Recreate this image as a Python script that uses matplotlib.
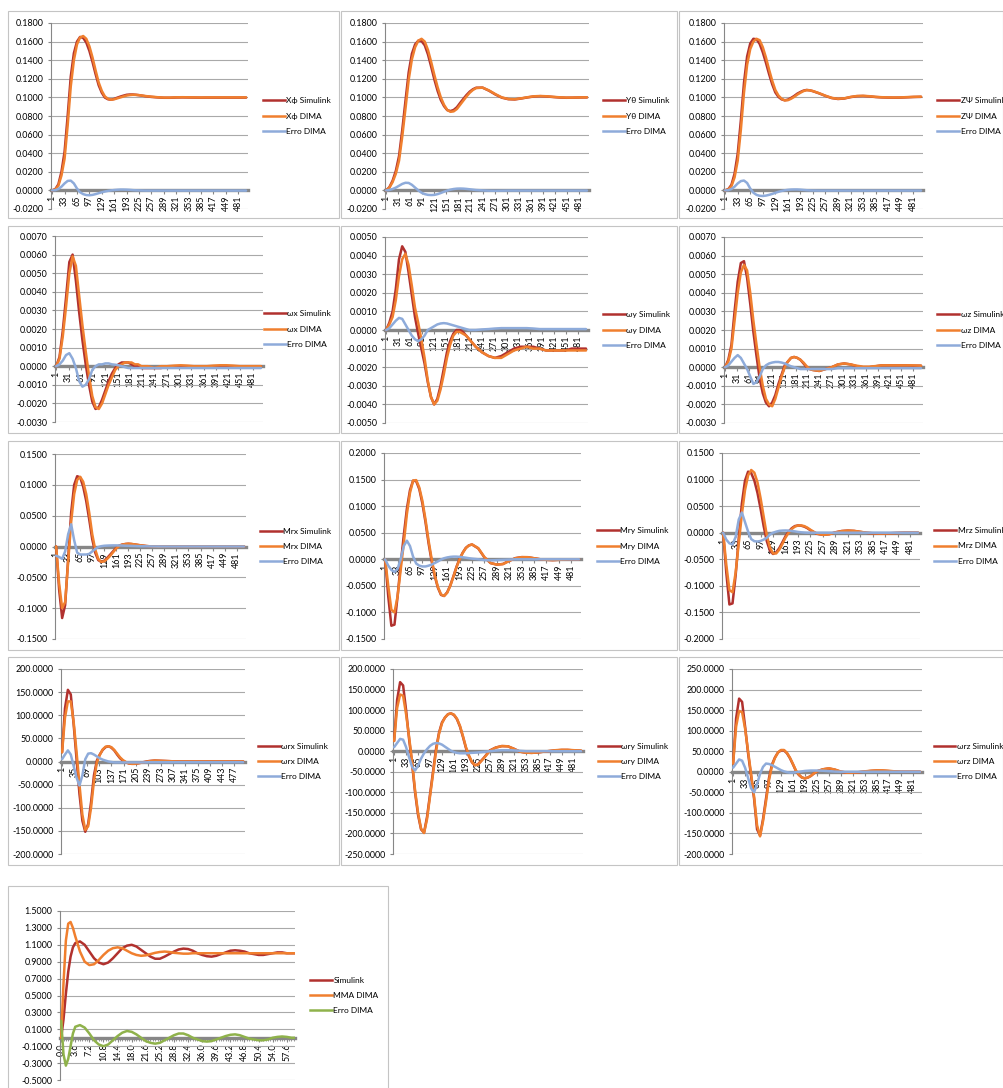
import matplotlib
matplotlib.use("Agg")
import numpy as np
import matplotlib.pyplot as plt
from matplotlib.patches import Rectangle
from matplotlib.lines import Line2D
from matplotlib.ticker import MultipleLocator

plt.rcParams['font.family'] = ['Lato', 'DejaVu Sans']
plt.rcParams['axes.unicode_minus'] = False

# sample index (step number) shared by the twelve state/moment charts
IDX = [1, 9, 17, 25, 33, 41, 49, 57, 65, 73, 81, 89, 97, 105, 113, 121, 129, 137, 145,
       153, 161, 169, 177, 185, 193, 201, 209, 217, 225,
       241, 257, 273, 289, 305, 321, 337, 353, 369, 385, 401, 417, 433, 449, 465, 481, 501]

TICKS_30 = [1, 31, 61, 91, 121, 151, 181, 211, 241, 271, 301, 331, 361, 391, 421, 451, 481]
TICKS_32 = [1, 33, 65, 97, 129, 161, 193, 225, 257, 289, 321, 353, 385, 417, 449, 481]
TICKS_34 = [1, 35, 69, 103, 137, 171, 205, 239, 273, 307, 341, 375, 409, 443, 477]

# X phi
xphi_sim = [0.0000, 0.0013, 0.0065, 0.0200, 0.0415, 0.0802, 0.1225, 0.1475, 0.1600, 0.1650, 0.1640, 0.1590, 0.1500, 0.1382, 0.1250, 0.1130, 0.1050, 0.0998, 0.0980, 0.0975, 0.0984, 0.0997, 0.1009, 0.1019, 0.1028, 0.1031, 0.1031, 0.1028, 0.1024,
            0.1013, 0.1005, 0.1000, 0.0996, 0.0996, 0.0999, 0.1000, 0.0999, 0.0998, 0.0997, 0.0998, 0.0998, 0.0998, 0.0998, 0.0998, 0.0998, 0.0998]
xphi_dima = [0.0000, 0.0010, 0.0050, 0.0160, 0.0340, 0.0700, 0.1120, 0.1400, 0.1570, 0.1645, 0.1660, 0.1630, 0.1550, 0.1430, 0.1290, 0.1160, 0.1070, 0.1010, 0.0985, 0.0975, 0.0980, 0.0990, 0.1000, 0.1010, 0.1020, 0.1025, 0.1028, 0.1027, 0.1024,
             0.1015, 0.1008, 0.1002, 0.0998, 0.0998, 0.1001, 0.1002, 0.1001, 0.1000, 0.0999, 0.1000, 0.1000, 0.1000, 0.1000, 0.1000, 0.1000, 0.1000]
xphi_err = [0.0000, 0.0003, 0.0015, 0.0040, 0.0075, 0.0102, 0.0105, 0.0075, 0.0020, -0.0020, -0.0040, -0.0050, -0.0052, -0.0048, -0.0040, -0.0030, -0.0020, -0.0012, -0.0005, 0.0000, 0.0004, 0.0007, 0.0009, 0.0009, 0.0008, 0.0006, 0.0003, 0.0001, 0.0000,
            -0.0002, -0.0002, -0.0002, -0.0002, -0.0002, -0.0002, -0.0002, -0.0002, -0.0002, -0.0002, -0.0002, -0.0002, -0.0002, -0.0002, -0.0002, -0.0002, -0.0002]

# Y theta
ytheta_sim = [0.0000, 0.0035, 0.0105, 0.0210, 0.0370, 0.0650, 0.0962, 0.1270, 0.1470, 0.1570, 0.1610, 0.1605, 0.1560, 0.1462, 0.1330, 0.1192, 0.1070, 0.0972, 0.0906, 0.0863, 0.0853, 0.0865, 0.0894, 0.0940, 0.0984, 0.1026, 0.1062, 0.1088, 0.1104,
              0.1105, 0.1072, 0.1031, 0.0997, 0.0981, 0.0978, 0.0988, 0.1000, 0.1010, 0.1013, 0.1010, 0.1004, 0.0999, 0.0996, 0.0997, 0.0999, 0.1000]
ytheta_dima = [0.0000, 0.0030, 0.0090, 0.0180, 0.0320, 0.0580, 0.0880, 0.1190, 0.1410, 0.1540, 0.1610, 0.1630, 0.1600, 0.1510, 0.1380, 0.1240, 0.1110, 0.1000, 0.0920, 0.0865, 0.0845, 0.0850, 0.0875, 0.0920, 0.0965, 0.1010, 0.1050, 0.1080, 0.1100,
               0.1105, 0.1075, 0.1035, 0.1000, 0.0983, 0.0980, 0.0990, 0.1002, 0.1012, 0.1015, 0.1012, 0.1006, 0.1001, 0.0998, 0.0998, 0.1000, 0.1001]
ytheta_err = [0.0000, 0.0005, 0.0015, 0.0030, 0.0050, 0.0070, 0.0082, 0.0080, 0.0060, 0.0030, 0.0000, -0.0025, -0.0040, -0.0048, -0.0050, -0.0048, -0.0040, -0.0028, -0.0014, -0.0002, 0.0008, 0.0015, 0.0019, 0.0020, 0.0019, 0.0016, 0.0012, 0.0008, 0.0004,
              0.0000, -0.0003, -0.0004, -0.0003, -0.0002, -0.0002, -0.0002, -0.0002, -0.0002, -0.0002, -0.0002, -0.0002, -0.0002, -0.0002, -0.0002, -0.0002, -0.0002]

# Z psi
zpsi_sim = [0.0000, 0.0013, 0.0060, 0.0180, 0.0395, 0.0750, 0.1156, 0.1440, 0.1580, 0.1630, 0.1625, 0.1575, 0.1485, 0.1374, 0.1252, 0.1142, 0.1054, 0.1005, 0.0979, 0.0969, 0.0976, 0.0994, 0.1015, 0.1040, 0.1058, 0.1073, 0.1080, 0.1076, 0.1067,
            0.1043, 0.1016, 0.0993, 0.0983, 0.0988, 0.1003, 0.1013, 0.1015, 0.1011, 0.1004, 0.1000, 0.0998, 0.0997, 0.0998, 0.1001, 0.1004, 0.1006]
zpsi_dima = [0.0000, 0.0010, 0.0045, 0.0140, 0.0320, 0.0650, 0.1050, 0.1350, 0.1520, 0.1600, 0.1630, 0.1615, 0.1540, 0.1430, 0.1300, 0.1180, 0.1080, 0.1020, 0.0985, 0.0968, 0.0970, 0.0985, 0.1005, 0.1030, 0.1050, 0.1068, 0.1078, 0.1076, 0.1068,
             0.1045, 0.1018, 0.0995, 0.0985, 0.0990, 0.1005, 0.1015, 0.1017, 0.1013, 0.1006, 0.1002, 0.1000, 0.0999, 0.1000, 0.1003, 0.1006, 0.1008]
zpsi_err = [0.0000, 0.0003, 0.0015, 0.0040, 0.0075, 0.0100, 0.0106, 0.0080, 0.0020, -0.0025, -0.0048, -0.0058, -0.0060, -0.0056, -0.0048, -0.0038, -0.0026, -0.0015, -0.0006, 0.0001, 0.0006, 0.0009, 0.0010, 0.0010, 0.0008, 0.0005, 0.0002, 0.0000, -0.0001,
            -0.0002, -0.0002, -0.0002, -0.0002, -0.0002, -0.0002, -0.0002, -0.0002, -0.0002, -0.0002, -0.0002, -0.0002, -0.0002, -0.0002, -0.0002, -0.0002, -0.0002]

# omega x
wx_sim = [0.0000, 0.0005, 0.0019, 0.0037, 0.0056, 0.0060, 0.0046, 0.0029, 0.0014, 0.0001, -0.0010, -0.0019, -0.0023, -0.0022, -0.0018, -0.0013, -0.0008, -0.0004, -0.0001, 0.0001, 0.0002, 0.0002, 0.0002, 0.0001, 0.0000, 0.0000, -0.0001, -0.0001, -0.0001,
          -0.0001, -0.0001, 0.0000, 0.0000, 0.0000, 0.0000, 0.0000, 0.0000, 0.0000, 0.0000, 0.0000, 0.0000, 0.0000, 0.0000, 0.0000, 0.0000, 0.0000]
wx_dima = [0.0000, 0.0004, 0.0016, 0.0032, 0.0050, 0.0059, 0.0054, 0.0038, 0.0022, 0.0008, -0.0005, -0.0016, -0.0022, -0.0023, -0.0020, -0.0015, -0.0010, -0.0006, -0.0002, 0.0000, 0.0001, 0.0002, 0.0002, 0.0002, 0.0001, 0.0001, 0.0000, 0.0000, 0.0000,
           -0.0001, 0.0000, 0.0000, 0.00003, 0.00005, 0.00003, 0.0000, 0.0000, 0.0000, 0.00003, 0.00005, 0.00005, 0.00003, 0.0000, 0.0000, 0.0000, 0.0000]
wx_err = [0.0000, 0.0001, 0.0003, 0.0006, 0.0007, 0.0004, -0.0001, -0.0008, -0.0011, -0.0010, -0.0007, -0.0002, 0.0000, 0.0001, 0.0001, 0.00015, 0.00015, 0.0001, 0.00008, 0.00005, 0.0000, -0.00005, -0.0001, -0.0001, -0.0001, -0.0001, -0.0001, -0.0001, -0.0001,
          -0.0001, -0.0001, -0.0001, -0.0001, -0.0001, -0.0001, -0.0001, -0.0001, -0.0001, -0.0001, -0.0001, -0.0001, -0.0001, -0.0001, -0.0001, -0.0001, -0.0001]

# omega y
wy_sim = [0.0000, 0.0004, 0.0010, 0.0022, 0.0038, 0.0045, 0.0042, 0.0031, 0.0019, 0.0007, -0.0002, -0.0010, -0.0018, -0.0028, -0.0036, -0.0040, -0.0037, -0.0030, -0.0021, -0.0012, -0.0006, -0.0002, 0.0000, 0.0000, -0.0001, -0.0003, -0.0005, -0.0007, -0.0009,
          -0.0012, -0.0014, -0.0015, -0.0014, -0.0012, -0.0010, -0.0009, -0.0009, -0.0009, -0.0010, -0.0011, -0.0011, -0.0011, -0.0011, -0.0010, -0.0010, -0.0010]
wy_dima = [0.0000, 0.0003, 0.0007, 0.0016, 0.0029, 0.0038, 0.0041, 0.0035, 0.0024, 0.0012, 0.0004, -0.0005, -0.0015, -0.0027, -0.0036, -0.0040, -0.0038, -0.0032, -0.0024, -0.0015, -0.0008, -0.0003, -0.0001, -0.0001, -0.0002, -0.0003, -0.0005, -0.0007, -0.0009,
           -0.0012, -0.0014, -0.0015, -0.0015, -0.0013, -0.0011, -0.0010, -0.0009, -0.0010, -0.0010, -0.0011, -0.0011, -0.0011, -0.0011, -0.0011, -0.0011, -0.0011]
wy_err = [0.0000, 0.0001, 0.0003, 0.0005, 0.00065, 0.0006, 0.0003, 0.0000, -0.0003, -0.0005, -0.0006, -0.0005, -0.0003, 0.0000, 0.0001, 0.0002, 0.0003, 0.00035, 0.00037, 0.00035, 0.0003, 0.00025, 0.0002, 0.00015, 0.0001, 0.00005, 0.0000, 0.0000, 0.0000,
          0.00003, 0.00005, 0.00008, 0.0001, 0.0001, 0.0001, 0.0001, 0.0001, 0.00008, 0.00005, 0.00005, 0.00005, 0.00005, 0.00005, 0.00005, 0.00005, 0.00005]

# omega z
wz_sim = [0.0000, 0.0004, 0.0012, 0.0030, 0.0046, 0.0056, 0.0057, 0.0048, 0.0034, 0.0019, 0.0006, -0.0006, -0.0014, -0.0019, -0.0021, -0.0019, -0.0015, -0.0009, -0.0004, 0.0001, 0.0003, 0.0005, 0.00055, 0.0005, 0.0004, 0.0002, 0.0000, -0.0001, -0.00015,
          -0.0002, -0.0001, 0.0000, 0.00015, 0.0002, 0.00015, 0.00005, 0.0000, 0.0000, 0.00005, 0.0001, 0.0001, 0.0001, 0.0001, 0.0001, 0.00008, 0.00008]
wz_dima = [0.0000, 0.0003, 0.0010, 0.0025, 0.0040, 0.0051, 0.0055, 0.0052, 0.0040, 0.0025, 0.0012, 0.0000, -0.0010, -0.0017, -0.0020, -0.0021, -0.0017, -0.0011, -0.0005, 0.0000, 0.0003, 0.0005, 0.00055, 0.0005, 0.0004, 0.00025, 0.00005, -0.0001, -0.00015,
           -0.0002, -0.0001, 0.0000, 0.00015, 0.0002, 0.00015, 0.00008, 0.00003, 0.00003, 0.00006, 0.0001, 0.0001, 0.0001, 0.0001, 0.0001, 0.0001, 0.00008]
wz_err = [0.0000, 0.0001, 0.0003, 0.0005, 0.00065, 0.0005, 0.0002, -0.0001, -0.0005, -0.0009, -0.0008, -0.0005, -0.0001, 0.0001, 0.0002, 0.00025, 0.00028, 0.00028, 0.00025, 0.0002, 0.00012, 0.00005, 0.0000, -0.00005, -0.0001, -0.0001, -0.0001, -0.0001, -0.0001,
          -0.0001, -0.0001, -0.0001, -0.00005, -0.00005, -0.00005, -0.00005, -0.00005, -0.00005, -0.00005, -0.00005, -0.00005, -0.00005, -0.00005, -0.00005, -0.00005, -0.00005]

# moment x
mrx_sim = [0.0000, -0.0700, -0.1160, -0.0950, -0.0200, 0.0550, 0.1000, 0.1140, 0.1120, 0.0970, 0.0740, 0.0440, 0.0120, -0.0100, -0.0220, -0.0250, -0.0230, -0.0185, -0.0130, -0.0075, -0.0020, 0.0015, 0.0032, 0.0040, 0.0044, 0.0040, 0.0034, 0.0026, 0.0019,
           0.0007, 0.0000, -0.0004, 0.0000, 0.0002, 0.0002, 0.0000, -0.0001, 0.0000, 0.0000, 0.0000, 0.0000, 0.0000, 0.0000, 0.0000, 0.0000, 0.0000]
mrx_dima = [0.0000, -0.0600, -0.1000, -0.0900, -0.0250, 0.0400, 0.0850, 0.1080, 0.1130, 0.1050, 0.0850, 0.0550, 0.0200, -0.0050, -0.0200, -0.0250, -0.0240, -0.0200, -0.0150, -0.0090, -0.0030, 0.0010, 0.0030, 0.0040, 0.0045, 0.0042, 0.0035, 0.0028, 0.0020,
            0.0008, 0.0000, -0.0005, 0.0000, 0.0003, 0.0002, 0.0000, -0.0002, 0.0000, 0.0000, 0.0001, 0.0001, 0.0000, 0.0000, 0.0000, 0.0000, 0.0000]
mrx_err = [-0.0150, -0.0170, -0.0200, -0.0080, 0.0200, 0.0360, 0.0100, -0.0100, -0.0130, -0.0130, -0.0130, -0.0120, -0.0080, -0.0040, -0.0010, 0.0005, 0.0012, 0.0015, 0.0017, 0.0018, 0.0018, 0.0017, 0.0015, 0.0013, 0.0012, 0.0010, 0.0008, 0.0006, 0.0005,
           0.0003, 0.0001, 0.0000, 0.0000, 0.0000, 0.0000, 0.0000, 0.0000, 0.0000, 0.0000, 0.0000, 0.0000, 0.0000, 0.0000, 0.0000, 0.0000, 0.0000]

# moment y
mry_sim = [0.0000, -0.0700, -0.1250, -0.1230, -0.0700, -0.0100, 0.0450, 0.0950, 0.1300, 0.1480, 0.1470, 0.1320, 0.1050, 0.0700, 0.0300, -0.0040, -0.0320, -0.0535, -0.0670, -0.0690, -0.0620, -0.0490, -0.0320, -0.0140, 0.0010, 0.0125, 0.0215, 0.0262, 0.0278,
           0.0205, 0.0035, -0.0072, -0.0100, -0.0088, -0.0028, 0.0022, 0.0040, 0.0038, 0.0019, 0.0000, -0.0010, -0.0015, -0.0010, -0.0005, 0.0000, 0.0000]
mry_dima = [0.0000, -0.0500, -0.0950, -0.1000, -0.0700, -0.0200, 0.0300, 0.0850, 0.1250, 0.1480, 0.1490, 0.1350, 0.1100, 0.0750, 0.0350, 0.0000, -0.0300, -0.0520, -0.0660, -0.0690, -0.0630, -0.0500, -0.0330, -0.0150, 0.0000, 0.0120, 0.0210, 0.0260, 0.0280,
            0.0210, 0.0040, -0.0070, -0.0100, -0.0090, -0.0030, 0.0020, 0.0040, 0.0040, 0.0020, 0.0000, -0.0010, -0.0015, -0.0010, -0.0005, 0.0000, 0.0000]
mry_err = [0.0000, -0.0120, -0.0200, -0.0240, -0.0180, 0.0000, 0.0250, 0.0350, 0.0250, 0.0050, -0.0080, -0.0120, -0.0135, -0.0135, -0.0120, -0.0100, -0.0070, -0.0040, -0.0005, 0.0020, 0.0035, 0.0045, 0.0050, 0.0050, 0.0045, 0.0038, 0.0030, 0.0020, 0.0012,
           0.0000, -0.0015, -0.0020, -0.0015, -0.0010, -0.0005, 0.0000, 0.0000, 0.0000, 0.0000, 0.0000, 0.0000, 0.0000, 0.0000, 0.0000, 0.0000, 0.0000]

# moment z
mrz_sim = [0.0000, -0.0750, -0.1350, -0.1330, -0.0800, -0.0100, 0.0550, 0.0980, 0.1150, 0.1120, 0.0980, 0.0750, 0.0450, 0.0120, -0.0160, -0.0340, -0.0400, -0.0370, -0.0290, -0.0180, -0.0065, 0.0020, 0.0085, 0.0125, 0.0137, 0.0132, 0.0115, 0.0085, 0.0045,
           -0.0020, -0.0040, -0.0028, 0.0008, 0.0032, 0.0040, 0.0033, 0.0015, -0.0002, -0.0012, -0.0015, -0.0014, -0.0009, -0.0004, 0.0000, 0.0000, 0.0000]
mrz_dima = [0.0000, -0.0600, -0.1080, -0.1120, -0.0750, -0.0200, 0.0350, 0.0800, 0.1080, 0.1180, 0.1130, 0.0950, 0.0650, 0.0300, -0.0050, -0.0280, -0.0390, -0.0390, -0.0320, -0.0210, -0.0090, 0.0000, 0.0070, 0.0115, 0.0135, 0.0137, 0.0125, 0.0095, 0.0055,
            -0.0015, -0.0040, -0.0030, 0.0005, 0.0030, 0.0040, 0.0035, 0.0018, 0.0000, -0.0010, -0.0015, -0.0015, -0.0010, -0.0005, 0.0000, 0.0000, 0.0000]
mrz_err = [0.0000, -0.0130, -0.0200, -0.0220, -0.0080, 0.0250, 0.0380, 0.0200, 0.0020, -0.0120, -0.0160, -0.0165, -0.0155, -0.0130, -0.0095, -0.0035, 0.0000, 0.0020, 0.0035, 0.0040, 0.0042, 0.0040, 0.0033, 0.0025, 0.0015, 0.0008, 0.0003, 0.0000, 0.0000,
           0.0000, 0.0000, 0.0000, 0.0000, 0.0000, 0.0000, 0.0000, 0.0000, 0.0000, 0.0000, 0.0000, 0.0000, 0.0000, 0.0000, 0.0000, 0.0000, 0.0000]

# omega rate x
wrx_sim = [20, 115, 155, 145, 80, 5, -70, -128, -152, -135, -88, -30, 2, 15, 25, 31, 33, 30, 24, 15, 7, 2, -2, -4, -5, -5, -4, -3, -1.5,
           1, 2, 1.5, 1, 0.5, 0, 0, 0, 0, 0, 0, 0, 0, 0, 0, 0, 0]
wrx_dima = [20, 95, 130, 130, 85, 20, -50, -115, -148, -140, -100, -42, -2, 14, 26, 32, 33, 31, 25, 17, 9, 3, -1, -4, -5, -5, -4, -3, -2,
            0.5, 2, 1.5, 1, 0.5, 0, 0, 0, 0, 0, 0, 0, 0, 0, 0, 0, 0]
wrx_err = [5, 15, 24, 15, -10, -35, -52, -30, 5, 17, 18, 15, 11, 7, 4, 2, 0, -1, -2, -2, -2, -2, -2, -2, -2, -2, -2, -2, -2,
           -1.5, -1.5, -1.5, -1.5, -1.5, -1.5, -1.5, -1.5, -1.5, -1.5, -1.5, -1.5, -1.5, -1.5, -1.5, -1.5, -1.5]

# omega rate y
wry_sim = [25, 125, 168, 160, 100, 30, -30, -100, -155, -190, -198, -160, -105, -50, 5, 45, 70, 82, 90, 92, 88, 78, 60, 35, 8, -12, -27, -34, -32,
           -16, 2, 9, 12.5, 12, 6, -1, -3.5, -4, -3, -1, 0.5, 2, 3, 3, 2, 1]
wry_dima = [25, 105, 138, 135, 90, 35, -25, -95, -150, -188, -199, -165, -110, -55, 0, 42, 68, 82, 90, 92, 89, 79, 62, 37, 10, -10, -26, -34, -33,
            -17, 1, 9, 12.5, 12, 6, -1, -3.5, -4, -3, -1, 0.5, 2.5, 3.5, 3.5, 2.5, 1.5]
wry_err = [10, 20, 30, 28, 10, -15, -38, -47, -35, -18, -5, 5, 13, 18, 20, 19, 16, 11, 6, 1, -2, -4, -5, -5, -5, -4.5, -4, -3.5, -3,
           -1.5, 0, 1.5, 2.5, 2.5, 2, 1, 0, 0, 0, 0, 0, 0, 0, 0, 0, 0]

# omega rate z
wrz_sim = [20, 130, 178, 170, 110, 45, -10, -65, -140, -155, -115, -65, -15, 18, 35, 47, 52, 52, 45, 33, 18, 2, -8, -14, -16, -14, -10, -4, 1,
           6, 8, 5, 0, -2, -2, -1, 0.5, 2, 3, 2.5, 1.5, 0.5, 0, 0, 0, 0]
wrz_dima = [20, 110, 148, 145, 105, 50, -5, -60, -130, -157, -120, -72, -20, 15, 34, 47, 53, 53, 46, 34, 19, 3, -7, -14, -16, -14, -10, -4, 1,
            6, 8.5, 5.5, 0.5, -2, -2, -1, 1, 2.5, 3.5, 3.5, 2.5, 1, 0, 0, 0, 0]
wrz_err = [10, 20, 30, 27, 10, -15, -40, -50, -30, -5, 12, 20, 19, 16, 12, 8, 4, 1, -1, -2, -2, -1, 0, 1, 2, 2.5, 3, 3, 3,
           2.5, 1.5, 0.5, 0, 0, 0, 0, 0, 0, 0, 0, 0, 0, 0, 0, 0, 0]

# step response against time
T = [0, 0.6, 1.2, 1.8, 2.4, 3.0, 3.6, 4.8, 6.0, 7.2, 8.4, 9.6, 10.8, 12.0, 13.2, 14.4, 15.6, 16.8, 18.0,
     19.2, 20.4, 21.6, 22.8, 24.0, 25.2, 26.4, 27.6, 28.8, 30.0, 31.2, 32.4, 33.6, 34.8, 36.0, 37.2, 38.4,
     39.6, 40.8, 42.0, 43.2, 44.4, 45.6, 46.8, 48.0, 49.2, 50.4, 51.6, 52.8, 54.0, 55.2, 56.4, 57.6, 58.8, 60.0]
T_LABELS = ['0.0', '3.6', '7.2', '10.8', '14.4', '18.0', '21.6', '25.2', '28.8', '32.4', '36.0',
            '39.6', '43.2', '46.8', '50.4', '54.0', '57.6']
step_sim = [0, 0.22, 0.52, 0.78, 0.96, 1.07, 1.12, 1.14, 1.10, 1.02, 0.94, 0.89, 0.87, 0.89, 0.94, 1.00, 1.06, 1.09, 1.10,
            1.08, 1.04, 1.00, 0.96, 0.935, 0.935, 0.96, 0.99, 1.02, 1.045, 1.055, 1.05, 1.03, 1.00, 0.98, 0.965, 0.96,
            0.97, 0.99, 1.01, 1.03, 1.035, 1.03, 1.02, 1.00, 0.99, 0.98, 0.98, 0.99, 1.0, 1.01, 1.01, 1.0, 1.0, 1.0]
step_dima = [0, 0.65, 1.15, 1.35, 1.37, 1.30, 1.20, 1.02, 0.90, 0.86, 0.87, 0.92, 0.98, 1.03, 1.06, 1.07, 1.06, 1.03, 1.00,
             0.98, 0.97, 0.975, 0.99, 1.005, 1.015, 1.02, 1.015, 1.005, 1.0, 0.995, 0.995, 1.0, 1.0, 1.0, 1.0, 1.0,
             1.0, 1.0, 1.0, 1.0, 1.0, 1.0, 1.0, 1.0, 1.0, 1.0, 1.0, 1.0, 1.0, 1.0, 1.0, 1.0, 1.0, 1.0]
step_err = [0.2, -0.2, -0.33, -0.25, -0.1, 0.05, 0.13, 0.15, 0.12, 0.05, -0.03, -0.08, -0.1, -0.08, -0.03, 0.02, 0.06, 0.08, 0.07,
            0.04, 0.0, -0.04, -0.06, -0.07, -0.06, -0.03, 0.0, 0.03, 0.05, 0.05, 0.03, 0.0, -0.02, -0.04, -0.045, -0.04,
            -0.02, 0.0, 0.02, 0.035, 0.04, 0.03, 0.01, -0.01, -0.02, -0.03, -0.03, -0.02, 0.0, 0.01, 0.015, 0.01, 0.0, 0.0]

W, H = 1004, 1088
RED = '#B1312E'
ORANGE = '#F07F2E'
BLUE = '#8EABDA'
GREEN = '#8FB24B'
GRID = '#A9A9A9'
AXIS = '#878787'
FS = 6.4
LEG_FS = 6.0
LW = 1.8


def add_axes(fig, left, top, right, bottom):
    return fig.add_axes([left / W, 1 - bottom / H, (right - left) / W, (bottom - top) / H])


def style(ax, ymin, ymax, ystep, ticks, labels, xlim):
    n = int(round((ymax - ymin) / ystep))
    yt = [round(ymin + i * ystep, 6) + 0.0 for i in range(n + 1)]
    ax.set_ylim(ymin, ymax)
    ax.set_yticks(yt)
    ax.set_yticklabels(['%.4f' % v if abs(v) > 1e-9 else '0.0000' for v in yt])
    ax.set_xlim(*xlim)
    ax.set_xticks(ticks)
    ax.set_xticklabels(labels)
    ax.yaxis.grid(True, color=GRID, lw=0.8)
    ax.set_axisbelow(True)
    for side in ('top', 'right'):
        ax.spines[side].set_visible(False)
    ax.spines['left'].set_color(AXIS)
    ax.spines['left'].set_linewidth(0.8)
    ax.spines['bottom'].set_position(('data', 0))
    ax.spines['bottom'].set_color(AXIS)
    ax.spines['bottom'].set_linewidth(2.4)
    ax.patch.set_alpha(0)
    ax.tick_params(axis='y', length=2.5, width=0.8, color=AXIS, pad=3, labelsize=FS)
    ax.tick_params(axis='x', length=3, width=0.8, color=AXIS, pad=1, labelsize=FS,
                   labelrotation=90)


def draw(ax, x, series, names, colors, leg_x):
    for y, c in zip(series, colors):
        ax.plot(x, y, color=c, lw=LW, zorder=3, solid_capstyle='round')
    handles = [Line2D([], [], color=c, lw=LW) for c in colors]
    ax.legend(handles, names, loc='center left', bbox_to_anchor=(leg_x, 0.5),
              frameon=False, fontsize=LEG_FS, handlelength=2.6, handletextpad=0.2,
              labelspacing=1.0, borderpad=0, borderaxespad=0)


fig = plt.figure(figsize=(W / 100, H / 100), dpi=100)

# chart area frames
for x0, x1 in [(8, 339), (341, 677), (679, 1003)]:
    for y0, y1 in [(11, 218), (226, 433), (441, 650), (657, 865)]:
        fig.add_artist(Rectangle((x0 / W, 1 - y1 / H), (x1 - x0) / W, (y1 - y0) / H,
                                 transform=fig.transFigure, fill=False, ec='#C4C4C4', lw=0.8))
fig.add_artist(Rectangle((8 / W, 1 - 1090 / H), 380 / W, 204 / H,
                         transform=fig.transFigure, fill=False, ec='#C4C4C4', lw=0.8))

panels = [
    (xphi_sim, xphi_dima, xphi_err, 'Xϕ', (-0.02, 0.18, 0.02), TICKS_32, (51, 23, 248, 209), 1.076),
    (ytheta_sim, ytheta_dima, ytheta_err, 'Yθ', (-0.02, 0.18, 0.02), TICKS_30, (385, 23, 589, 209), 1.069),
    (zpsi_sim, zpsi_dima, zpsi_err, 'ZΨ', (-0.02, 0.18, 0.02), TICKS_32, (724, 23, 923, 209), 1.072),
    (wx_sim, wx_dima, wx_err, 'ωx', (-0.003, 0.007, 0.001), TICKS_30, (55, 236, 263, 422), 1.005),
    (wy_sim, wy_dima, wy_err, 'ωy', (-0.005, 0.005, 0.001), TICKS_30, (385, 237, 588, 423), 1.074),
    (wz_sim, wz_dima, wz_err, 'ωz', (-0.003, 0.007, 0.001), TICKS_30, (724, 237, 923, 423), 1.072),
    (mrx_sim, mrx_dima, mrx_err, 'Mrx', (-0.15, 0.15, 0.05), TICKS_32, (55, 454, 246, 639), 1.073),
    (mry_sim, mry_dima, mry_err, 'Mry', (-0.15, 0.2, 0.05), TICKS_32, (384, 453, 581, 639), 1.081),
    (mrz_sim, mrz_dima, mrz_err, 'Mrz', (-0.2, 0.15, 0.05), TICKS_32, (722, 453, 920, 639), 1.072),
    (wrx_sim, wrx_dima, wrx_err, 'ωrx', (-200, 200, 50), TICKS_34, (61, 669, 245, 854), 1.07),
    (wry_sim, wry_dima, wry_err, 'ωry', (-250, 200, 50), TICKS_32, (393, 669, 583, 854), 1.079),
    (wrz_sim, wrz_dima, wrz_err, 'ωrz', (-200, 250, 50), TICKS_32, (732, 669, 922, 854), 1.062),
]

for sim, dima, err, sym, (ymin, ymax, ystep), ticks, box, leg_x in panels:
    ax = add_axes(fig, *box)
    style(ax, ymin, ymax, ystep, ticks, [str(t) for t in ticks], (-2, 506))
    draw(ax, IDX, [sim, dima, err], [sym + ' Simulink', sym + ' DIMA', 'Erro DIMA'],
         [RED, ORANGE, BLUE], leg_x)

# step response panel
ax = add_axes(fig, 60, 911, 295, 1080)
t_ticks = [float(s) for s in T_LABELS]
style(ax, -0.5, 1.5, 0.2, t_ticks, T_LABELS, (-0.3, 59.7))
ax.xaxis.set_minor_locator(MultipleLocator(0.6))
ax.tick_params(axis='x', which='minor', length=2, width=0.6, color=AXIS)
draw(ax, T, [step_sim, step_dima, step_err], ['Simulink', 'MMA DIMA', 'Erro DIMA'],
     [RED, ORANGE, GREEN], 1.064)

fig.savefig('out.png', dpi=100)
